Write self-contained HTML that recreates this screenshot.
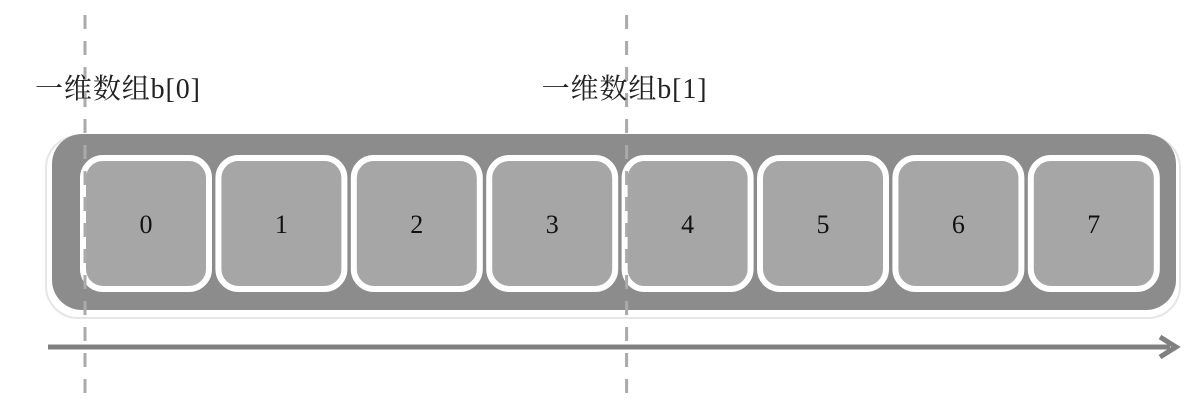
<!DOCTYPE html>
<html><head><meta charset="utf-8"><style>
body{margin:0;background:#fff;width:1200px;height:409px;overflow:hidden}
svg text{font-family:"Liberation Serif","Noto Serif CJK SC",serif}
</style></head><body>
<svg id="c" width="1200" height="409">
<rect x="46" y="136" width="1134" height="182" rx="32" fill="#fff" stroke="#e6e6e6" stroke-width="2"/>
<rect x="52" y="134" width="1124" height="176" rx="30" fill="#8c8c8c"/>
<g id="cells"></g>
<line x1="48" y1="347" x2="1170" y2="347" stroke="#808080" stroke-width="5"/>
<polyline points="1160,337 1176,347 1160,357" fill="none" stroke="#808080" stroke-width="5"/>
<g id="marks"></g>
</svg>
<script>
const cellLabels=["0","1","2","3","4","5","6","7"];
const markers=["一维数组b[0]","一维数组b[1]"];
const markerIndex=[0,4];
const NS="http://www.w3.org/2000/svg";
const x0=80,pitch=135.4,cw=132;
const cx=i=>x0+i*pitch;
const labelShift=[50,85];
const cells=document.getElementById('cells');
cellLabels.forEach((t,i)=>{
 const r=document.createElementNS(NS,'rect');
 
 
 r.setAttribute('x',cx(i)+3);r.setAttribute('y',158);r.setAttribute('width',cw-6);r.setAttribute('height',131);
 r.setAttribute('rx',20);r.setAttribute('fill','#a6a6a6');r.setAttribute('stroke','#fff');r.setAttribute('stroke-width',6);
 cells.appendChild(r);
 const tx=document.createElementNS(NS,'text');
 
 
 tx.setAttribute('x',cx(i)+cw/2);tx.setAttribute('y',233);tx.setAttribute('text-anchor','middle');
 tx.setAttribute('font-size','26');tx.setAttribute('fill','#111');tx.textContent=t;
 cells.appendChild(tx);
});
const marks=document.getElementById('marks');
markers.forEach((m,k)=>{
 const x=cx(markerIndex[k])+5;
 const l=document.createElementNS(NS,'line');
 
 
 l.setAttribute('x1',x);l.setAttribute('x2',x);l.setAttribute('y1',15);l.setAttribute('y2',400);
 l.setAttribute('stroke','#aaa');l.setAttribute('stroke-width',3);l.setAttribute('stroke-dasharray','14 12');
 marks.appendChild(l);
 const t=document.createElementNS(NS,'text');
 
 
 t.setAttribute('x',x-labelShift[k]);t.setAttribute('y',98);t.setAttribute('font-size','28');t.setAttribute('fill','#222');
 t.setAttribute('textLength','165');
 t.textContent=m;marks.appendChild(t);
});
</script>
</body></html>
